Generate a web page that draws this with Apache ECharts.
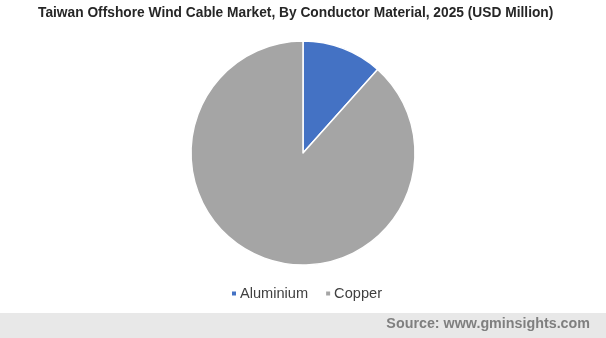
<!DOCTYPE html>
<html><head><meta charset="utf-8">
<script src="https://cdn.jsdelivr.net/npm/echarts@6/dist/echarts.min.js"></script>
<style>html,body{margin:0;padding:0;background:#fff}#c{width:606px;height:338px}</style>
</head><body><div id="c"></div>
<script>
const categories = ['Aluminium', 'Copper'];
const values = [11.6, 88.4];
const colors = ['#4472C4', '#A5A5A5'];
const titleText = 'Taiwan Offshore Wind Cable Market, By Conductor Material, 2025 (USD Million)';
const sourceText = 'Source: www.gminsights.com';

const chart = echarts.init(document.getElementById('c'), null, {renderer: 'canvas'});
chart.setOption({
  animation: false,
  backgroundColor: '#fff',
  title: {
    text: titleText, left: 33, top: 1,
    textStyle: {fontFamily: 'Liberation Sans, Arial', fontSize: 13.75, fontWeight: 'bold', color: '#262626'}
  },
  legend: {
    data: categories, top: 281, left: 225,
    icon: 'rect', itemWidth: 6, itemHeight: 6, itemGap: 16,
    textStyle: {fontFamily: 'Liberation Sans, Arial', fontSize: 14.6, color: '#404040', padding: [0,0,0,-2]}
  },
  graphic: [
    {type: 'rect', left: 0, top: 313, shape: {width: 606, height: 25}, style: {fill: '#E8E8E8'}, silent: true},
    {type: 'text', right: 16, top: 317, style: {text: sourceText, fill: '#7F7F7F', font: 'bold 14.3px "Liberation Sans", Arial'}}
  ],
  series: [{
    type: 'pie', center: [303, 153], radius: 112, startAngle: 90, clockwise: true,
    label: {show: false}, labelLine: {show: false},
    itemStyle: {borderColor: '#fff', borderWidth: 1.5},
    data: categories.map((n, i) => ({name: n, value: values[i], itemStyle: {color: colors[i]}}))
  }]
});
</script></body></html>
